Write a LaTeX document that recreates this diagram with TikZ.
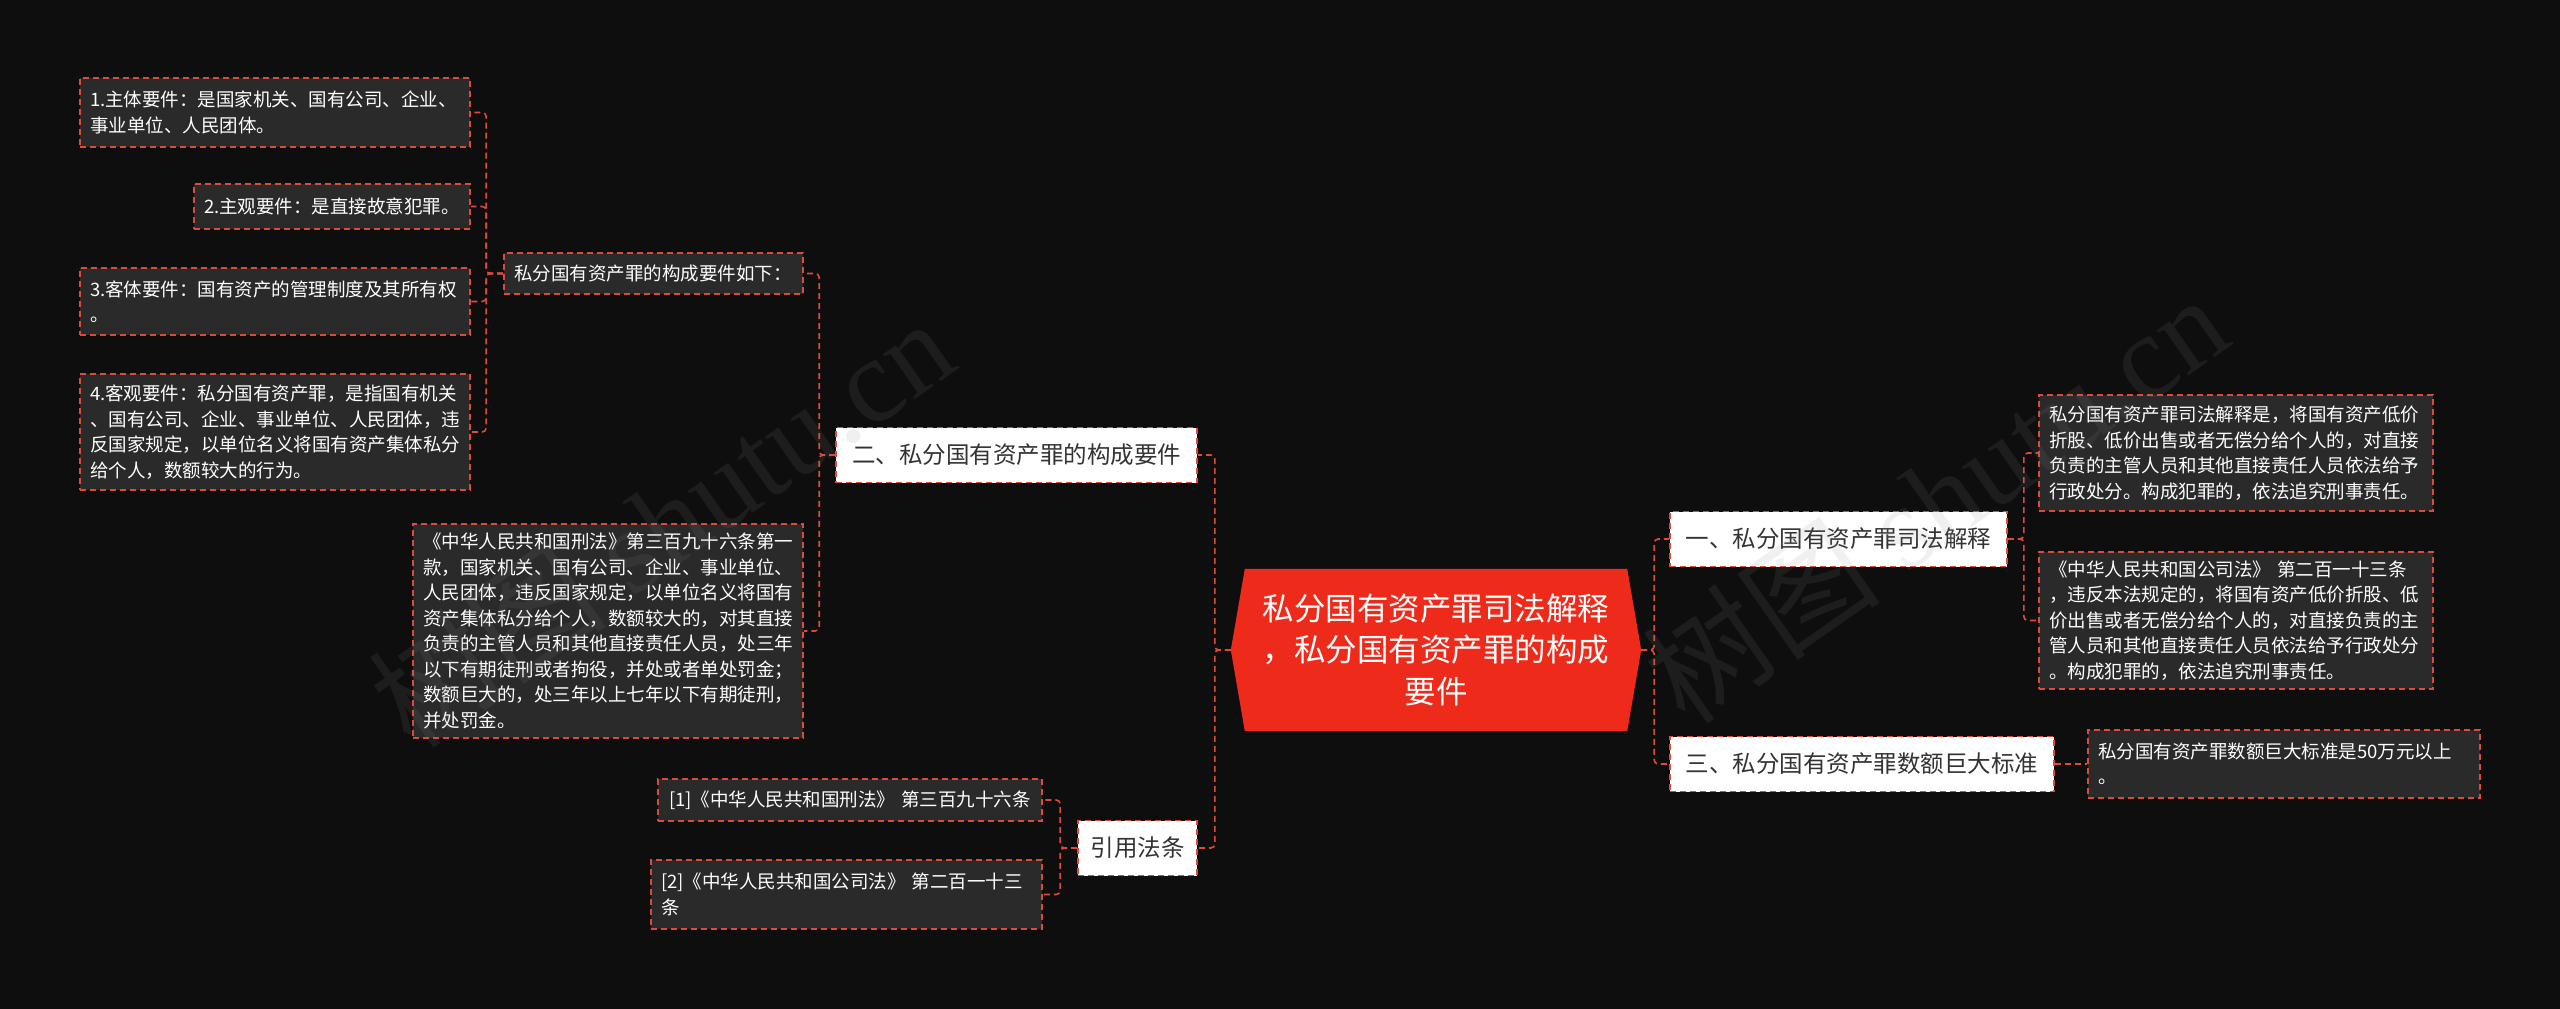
\documentclass[tikz,border=0pt]{standalone}
\usepackage{fontspec}
\setmainfont{Noto Sans CJK SC}
\newfontfamily\wmserif{Liberation Serif}
\usetikzlibrary{backgrounds}
\definecolor{bg}{HTML}{0E0E0E}
\definecolor{leaffill}{HTML}{2A2A2A}
\definecolor{dashred}{HTML}{DD4A3C}
\definecolor{hexred}{HTML}{EE2B1B}
\definecolor{darktext}{HTML}{333333}
\definecolor{wmgray}{HTML}{8A8A8A}
\begin{document}
\begin{tikzpicture}[x=1pt,y=-1pt,
  box/.style={draw=dashred, line width=1.6pt, dash pattern=on 6pt off 4pt, inner sep=0pt},
  leaf/.style={box, fill=leaffill, text=white, align=left, font=\fontsize{18.5pt}{25.5pt}\selectfont},
  sub/.style={box, fill=white, text=darktext, align=center, font=\fontsize{23.5pt}{30pt}\selectfont, minimum height=55pt},
  conn/.style={draw=dashred, line width=1.6pt, dash pattern=on 6pt off 4pt, rounded corners=4pt},
  wm/.style={rotate=35, text=wmgray, opacity=0.12, font=\fontsize{120pt}{130pt}\selectfont}
]
\useasboundingbox (0,0) rectangle (2560,1009);

% center
\node[text=white, align=center, font=\fontsize{31.5pt}{41.6pt}\selectfont,
      minimum width=410pt, minimum height=162pt, inner sep=0pt] (c) at (1436,650)
  {私分国有资产罪司法解释\\，私分国有资产罪的构成\\要件};

\begin{scope}[on background layer]
  \fill[bg] (0,0) rectangle (2560,1009);
  \fill[hexred] ([xshift=14pt]c.north west) -- ([xshift=-14pt]c.north east) -- (c.east)
     -- ([xshift=-14pt]c.south east) -- ([xshift=14pt]c.south west) -- (c.west) -- cycle;
\end{scope}

% second level
\node[sub, minimum width=337pt] (yi) at (1838.5,539) {一、私分国有资产罪司法解释};
\node[sub, minimum width=384pt] (san) at (1862,764) {三、私分国有资产罪数额巨大标准};
\node[sub, minimum width=361pt] (er) at (1016.5,455) {二、私分国有资产罪的构成要件};
\node[sub, minimum width=119pt] (yin) at (1137.5,848) {引用法条};

% right leaves
\node[leaf, minimum width=394pt, minimum height=116pt, text width=374pt] (r1) at (2236,453)
  {私分国有资产罪司法解释是，将国有资产低价\\折股、低价出售或者无偿分给个人的，对直接\\负责的主管人员和其他直接责任人员依法给予\\行政处分。构成犯罪的，依法追究刑事责任。};
\node[leaf, minimum width=394pt, minimum height=137pt, text width=374pt] (r2) at (2236,620.5)
  {\mbox{《中华人民共和国公司法》 第二百一十三条}\\，违反本法规定的，将国有资产低价折股、低\\价出售或者无偿分给个人的，对直接负责的主\\管人员和其他直接责任人员依法给予行政处分\\。构成犯罪的，依法追究刑事责任。};
\node[leaf, minimum width=392pt, minimum height=68pt, text width=372pt] (r3) at (2284,764)
  {私分国有资产罪数额巨大标准是50万元以上\\。};

% left branch 二
\node[leaf, minimum width=299pt, minimum height=41pt, text width=279pt] (ru) at (653.5,273.5)
  {私分国有资产罪的构成要件如下：};
\node[leaf, minimum width=390pt, minimum height=214pt, text width=370pt] (xf) at (608,631)
  {《中华人民共和国刑法》第三百九十六条第一\\款，国家机关、国有公司、企业、事业单位、\\人民团体，违反国家规定，以单位名义将国有\\资产集体私分给个人，数额较大的，对其直接\\负责的主管人员和其他直接责任人员，处三年\\以下有期徒刑或者拘役，并处或者单处罚金；\\数额巨大的，处三年以上七年以下有期徒刑，\\并处罚金。};

\node[leaf, minimum width=390pt, minimum height=69pt, text width=370pt] (l1) at (275,112.5)
  {1.主体要件：是国家机关、国有公司、企业、\\事业单位、人民团体。};
\node[leaf, minimum width=276pt, minimum height=45pt, text width=256pt] (l2) at (332,206.5)
  {2.主观要件：是直接故意犯罪。};
\node[leaf, minimum width=390pt, minimum height=67pt, text width=370pt] (l3) at (275,301.5)
  {3.客体要件：国有资产的管理制度及其所有权\\。};
\node[leaf, minimum width=390pt, minimum height=116pt, text width=370pt] (l4) at (275,432)
  {4.客观要件：私分国有资产罪，是指国有机关\\、国有公司、企业、事业单位、人民团体，违\\反国家规定，以单位名义将国有资产集体私分\\给个人，数额较大的行为。};

% citation leaves
\node[leaf, minimum width=384pt, minimum height=42pt, text width=362pt] (c1) at (850,800)
  {\mbox{[1]《中华人民共和国刑法》 第三百九十六条}};
\node[leaf, minimum width=391pt, minimum height=69pt, text width=371pt] (c2) at (846.5,894.5)
  {\mbox{[2]《中华人民共和国公司法》 第二百一十三}\\条};

% connectors
\draw[conn] (c.west) -- ++(-16,0) |- (er.east);
\draw[conn] (c.west) -- ++(-16,0) |- (yin.east);
\draw[conn] (c.east) -- ++(13,0) |- (yi.west);
\draw[conn] (c.east) -- ++(13,0) |- (san.west);
\draw[conn] (yi.east) -- ++(16,0) |- (r1.west);
\draw[conn] (yi.east) -- ++(16,0) |- (r2.west);
\draw[conn] (san.east) -- (r3.west);
\draw[conn] (er.west) -- ++(-16,0) |- (ru.east);
\draw[conn] (er.west) -- ++(-16,0) |- (xf.east);
\draw[conn] (ru.west) -- ++(-17,0) |- (l1.east);
\draw[conn] (ru.west) -- ++(-17,0) |- (l2.east);
\draw[conn] (ru.west) -- ++(-17,0) |- (l3.east);
\draw[conn] (ru.west) -- ++(-17,0) |- (l4.east);
\draw[conn] (yin.west) -- ++(-17,0) |- (c1.east);
\draw[conn] (yin.west) -- ++(-17,0) |- (c2.east);

% watermarks
\node[wm] (wm1) at (661,522) {树图 {\wmserif shutu.cn}};
\node[wm] (wm2) at (1935,498) {树图 {\wmserif shutu.cn}};
\end{tikzpicture}
\end{document}
